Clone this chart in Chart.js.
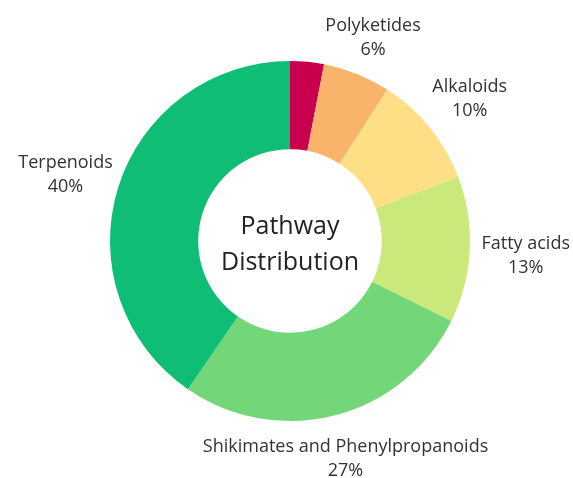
<!DOCTYPE html>
<html>
<head>
<meta charset="utf-8">
<script src="https://cdn.jsdelivr.net/npm/chart.js@4"></script>
<style>
  html, body { margin: 0; padding: 0; background: #fff; }
  #wrap { width: 573px; height: 478px; }
</style>
</head>
<body>
<div id="wrap"><canvas id="pie"></canvas></div>
<script>
// data (start at 12 o'clock, clockwise)
const pathways = ["", "Polyketides", "Alkaloids", "Fatty acids", "Shikimates and Phenylpropanoids", "Terpenoids"];
const shares = [3, 6, 10, 13, 27, 40];
const shareLabels = ["", "6%", "10%", "13%", "27%", "40%"];
const sliceColors = ["#c8004d", "#f9b36b", "#fedf86", "#cbe97b", "#73d77a", "#0fbd74"];
const centerLines = ["Pathway", "Distribution"];

const FONT = "'Open Sans', sans-serif";

// labels outside each slice
const outerLabels = {
    id: "outerLabels",
    afterDatasetsDraw(chart) {
        const ctx = chart.ctx;
        const arcs = chart.getDatasetMeta(0).data;
        ctx.save();
        ctx.font = "18px " + FONT;
        ctx.fillStyle = "#333";
        ctx.textAlign = "center";
        ctx.textBaseline = "middle";
        arcs.forEach((arc, i) => {
            if (!pathways[i]) return;
            const p = arc.getProps(["x", "y", "startAngle", "endAngle", "outerRadius"], true);
            const mid = (p.startAngle + p.endAngle) / 2;
            const r = p.outerRadius + 36 + 20 * Math.abs(Math.cos(mid));
            const x = p.x + Math.cos(mid) * r;
            const y = p.y + Math.sin(mid) * r + 4;
            ctx.fillText(pathways[i], x, y - 12);
            ctx.fillText(shareLabels[i], x, y + 12);
        });
        ctx.restore();
    }
};

const centerText = {
    id: "centerText",
    afterDatasetsDraw(chart) {
        const ctx = chart.ctx;
        const arc = chart.getDatasetMeta(0).data[0];
        ctx.save();
        ctx.font = "25px " + FONT;
        ctx.fillStyle = "#222";
        ctx.textAlign = "center";
        ctx.textBaseline = "middle";
        ctx.fillText(centerLines[0], arc.x, arc.y - 14);
        ctx.fillText(centerLines[1], arc.x, arc.y + 22);
        ctx.restore();
    }
};

new Chart(document.getElementById("pie"), {
    type: "doughnut",
    data: {
        labels: pathways,
        datasets: [{
            data: shares,
            backgroundColor: sliceColors,
            borderWidth: 0,
        }],
    },
    options: {
        responsive: true,
        maintainAspectRatio: false,
        animation: false,
        cutout: "51%",
        layout: { padding: { top: 61, bottom: 57, left: 20, right: 13 } },
        plugins: {
            legend: { display: false },
            tooltip: { enabled: false },
        },
    },
    plugins: [outerLabels, centerText],
});
</script>
</body>
</html>
